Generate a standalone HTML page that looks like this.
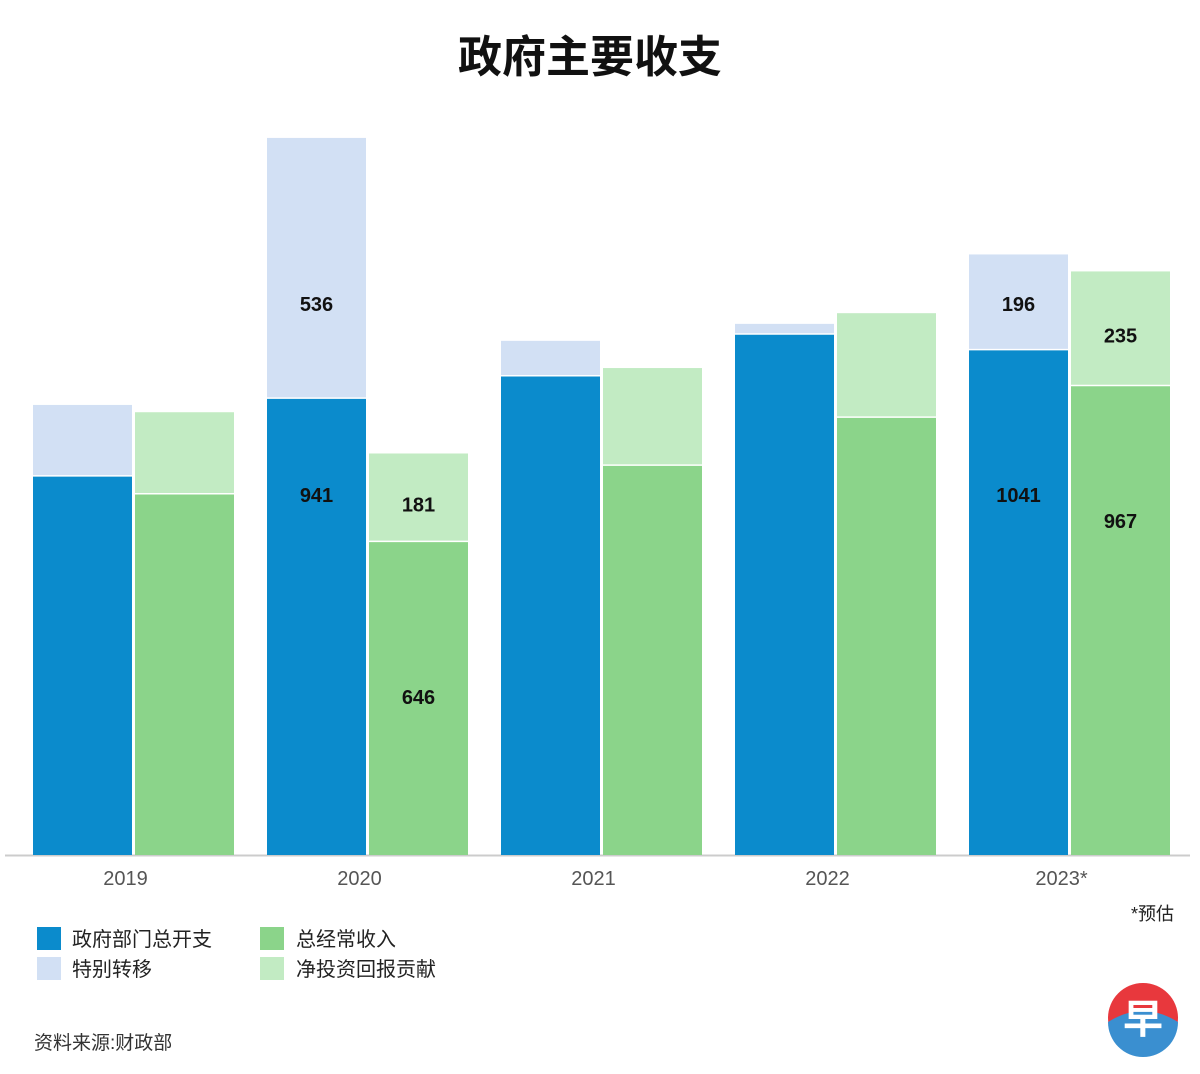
<!DOCTYPE html>
<html><head><meta charset="utf-8"><style>
body{margin:0;background:#fff;font-family:"Liberation Sans","Noto Sans CJK SC",sans-serif;}
#wrap{position:relative;width:1200px;height:1074px;overflow:hidden;}
</style></head><body>
<div id="wrap">
<svg id="chart" width="1200" height="1074" style="position:absolute;left:0;top:0">
<text x="590" y="72" text-anchor="middle" font-size="44" font-weight="bold" fill="#111" font-family="Liberation Sans,Noto Sans CJK SC,sans-serif">政府主要收支</text>
<line x1="5" y1="855.5" x2="1190" y2="855.5" stroke="#ccc" stroke-width="2"/>
<g id="bars"></g>
<text x="1174" y="920" text-anchor="end" font-size="18" fill="#222" font-family="Liberation Sans,Noto Sans CJK SC,sans-serif">*预估</text>
<g font-size="20" fill="#222" font-family="Liberation Sans,Noto Sans CJK SC,sans-serif">
<rect x="37" y="927" width="24" height="23" fill="#0b8bcc"/>
<text x="72" y="946">政府部门总开支</text>
<rect x="37" y="957" width="24" height="23" fill="#d2e0f4"/>
<text x="72" y="976">特别转移</text>
<rect x="260" y="927" width="24" height="23" fill="#8bd48a"/>
<text x="296" y="946">总经常收入</text>
<rect x="260" y="957" width="24" height="23" fill="#c2ebc3"/>
<text x="296" y="976">净投资回报贡献</text>
</g>
<text x="34" y="1049" font-size="19" fill="#333" font-family="Liberation Sans,Noto Sans CJK SC,sans-serif">资料来源:财政部</text>
<g>
<circle cx="1143" cy="1018" r="35" fill="#e8383d"/>
<path d="M1108 1022 Q1143 1000 1178 1022 A35 35 0 0 1 1108 1022Z" fill="#3a8fd0"/>
<text x="1143" y="1033" text-anchor="middle" font-size="40" font-weight="bold" fill="#fff" font-family="Noto Sans CJK SC,sans-serif">早</text>
</g>
</svg>
</div>
<script>
const years=["2019","2020","2021","2022","2023*"];
const deptSpending=[781,941,987,1073,1041];
const specialTransfers=[146,536,72,21,196];
const operatingRevenue=[744,646,803,902,967];
const nirContribution=[168,181,200,214,235];
const showLabels=[false,true,false,false,true];

const base=855, scale=0.4855, groupStart=33, groupStep=234, barW=99, gap=3;
const y=v=>base-v*scale;
const NS="http://www.w3.org/2000/svg";
const g=document.getElementById('bars');
function rect(x,v0,v1,fill,name){
  const r=document.createElementNS(NS,'rect');
  r.setAttribute('x',x);r.setAttribute('y',y(v1));
  r.setAttribute('width',barW);r.setAttribute('height',y(v0)-y(v1));
  r.setAttribute('fill',fill);
  
  
  g.appendChild(r);
}
function divider(x,v){
  const s=document.createElementNS(NS,'line');
  s.setAttribute('x1',x);s.setAttribute('x2',x+barW);
  s.setAttribute('y1',y(v));s.setAttribute('y2',y(v));
  s.setAttribute('stroke','#fff');s.setAttribute('stroke-width','1.5');
  
  
  g.appendChild(s);
}
function label(x,yy,t,name,color,size,weight){
  const e=document.createElementNS(NS,'text');
  e.setAttribute('x',x);e.setAttribute('y',yy);
  e.setAttribute('text-anchor','middle');e.setAttribute('font-size',size);
  e.setAttribute('font-weight',weight);e.setAttribute('fill',color);
  e.setAttribute('font-family','Liberation Sans,Noto Sans CJK SC,sans-serif');
  e.textContent=t;
  
  
  g.appendChild(e);
}
years.forEach((yr,i)=>{
  const x1=groupStart+i*groupStep, x2=x1+barW+gap;
  const a=deptSpending[i], b=specialTransfers[i], c=operatingRevenue[i], d=nirContribution[i];
  rect(x1,0,a,'#0b8bcc','bar-dept-spending-'+i);
  rect(x1,a,a+b,'#d2e0f4','bar-special-transfers-'+i);
  rect(x2,0,c,'#8bd48a','bar-operating-revenue-'+i);
  rect(x2,c,c+d,'#c2ebc3','bar-nir-contribution-'+i);
  divider(x1,a);
  divider(x2,c);
  label(x1+barW+gap/2-8,885,yr,'x-tick-label','#555',20,'normal');
  if(showLabels[i]){
    const cx1=x1+barW/2, cx2=x2+barW/2;
    label(cx1,311,String(b),'value-label','#111',20,'bold');
    label(cx1,502,String(a),'value-label','#111',20,'bold');
    label(cx2,(y(c)+y(c+d))/2+14,String(d),'value-label','#111',20,'bold');
    label(cx2,i===4?528:704,String(c),'value-label','#111',20,'bold');
  }
});
</script>
</body></html>
